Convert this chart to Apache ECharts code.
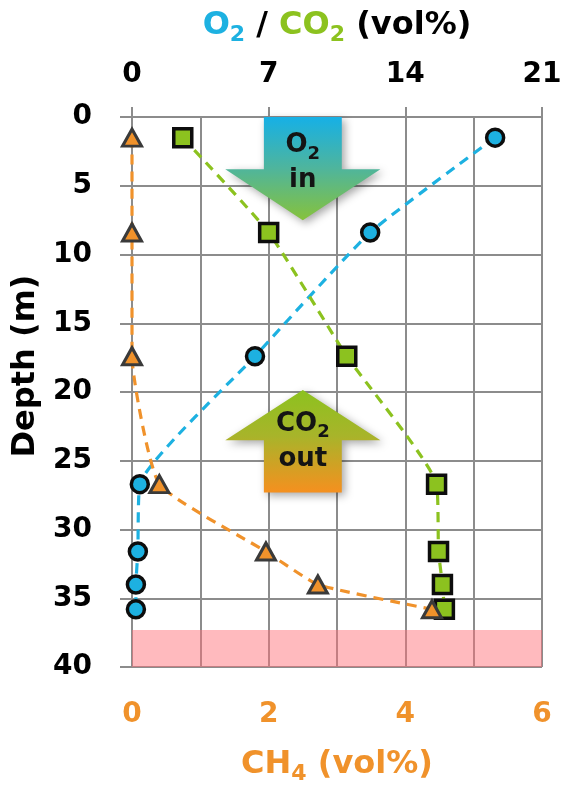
<!DOCTYPE html>
<html>
<head>
<meta charset="utf-8">
<script src="https://cdn.jsdelivr.net/npm/echarts/dist/echarts.min.js"></script>
<style>
  html, body { margin: 0; padding: 0; background: #ffffff; }
  #chart { width: 561px; height: 786px; }
</style>
</head>
<body>
<div id="chart"></div>
<script>
// Soil-gas profile: sampling depths and gas concentrations (vol%)
const depthM  = [1.5, 8.4, 17.4, 26.7, 31.6, 34.0, 35.8];
const o2Vol   = [18.6, 12.2, 6.3, 0.4, 0.3, 0.2, 0.2];
const co2Vol  = [2.6, 7.0, 11.0, 15.6, 15.7, 15.9, 16.0];
const ch4Vol  = [0, 0, 0, 0.4, 1.96, 2.72, 4.39];

// Axis tick values
const gasTicks   = [0, 7, 14, 21];
const ch4Ticks   = [0, 2, 4, 6];
const depthTicks = [0, 5, 10, 15, 20, 25, 30, 35, 40];

// Saturated zone at the bottom of the profile (depth range, m)
const saturatedZone = [37.3, 40];

// Flux arrows: [top, head base, tip / bottom] depths and centre on the CH4 scale
const arrowInDepth  = [0, 3.8, 7.5];
const arrowOutDepth = [19.85, 23.5, 27.3];
const arrowCenterCH4 = 2.5;

const FONT = 'DejaVu Sans';
const C_O2 = '#1db1e1';
const C_CO2 = '#8cc21f';
const C_CH4 = '#f0922b';
const GRID = '#8c8c8c';
const SMOOTH = 0.15;

const pairs = (xs) => xs.map((v, i) => [v, depthM[i]]);

const chart = echarts.init(document.getElementById('chart'), null, { renderer: 'canvas' });

const mainTok = (color) => ({ color, fontSize: 32, fontWeight: 'bold', fontFamily: FONT, lineHeight: 40, verticalAlign: 'middle' });
const subTok = (color) => ({ color, fontSize: 22, fontWeight: 'bold', fontFamily: FONT, lineHeight: 20, verticalAlign: 'bottom' });
const tickFont = { fontSize: 28, fontWeight: 'bold', fontFamily: FONT };

const option = {
  animation: false,
  backgroundColor: '#ffffff',
  grid: { left: 132, right: 19, top: 117, bottom: 119, containLabel: false, outerBoundsMode: 'none' },
  xAxis: [
    {
      type: 'value',
      position: 'bottom',
      min: ch4Ticks[0],
      max: ch4Ticks[ch4Ticks.length - 1],
      interval: ch4Ticks[1] - ch4Ticks[0],
      name: '{a|CH}{s|4}{a| (vol%)}',
      nameLocation: 'middle',
      nameGap: 78,
      nameTextStyle: { rich: { a: mainTok(C_CH4), s: subTok(C_CH4) } },
      axisLine: { show: true, lineStyle: { color: GRID, width: 2 } },
      axisTick: { show: true, inside: false, length: 10, lineStyle: { color: GRID, width: 2 } },
      axisLabel: Object.assign({ color: C_CH4, margin: 34 }, tickFont),
      splitLine: { show: true, lineStyle: { color: GRID, width: 2 } },
      minorTick: { show: false, splitNumber: 2 },
      minorSplitLine: { show: true, lineStyle: { color: GRID, width: 2 } }
    },
    {
      type: 'value',
      position: 'top',
      min: gasTicks[0],
      max: gasTicks[gasTicks.length - 1],
      interval: gasTicks[1] - gasTicks[0],
      name: '{c|O}{cs|2}{k| / }{g|CO}{gs|2}{k| (vol%)}',
      nameLocation: 'middle',
      nameGap: 71,
      nameTextStyle: {
        rich: {
          c: mainTok(C_O2), cs: subTok(C_O2),
          g: mainTok(C_CO2), gs: subTok(C_CO2),
          k: mainTok('#000000')
        }
      },
      axisLine: { show: true, lineStyle: { color: GRID, width: 2 } },
      axisTick: { show: true, inside: false, length: 10, lineStyle: { color: GRID, width: 2 } },
      axisLabel: Object.assign({ color: '#000000', margin: 28 }, tickFont),
      splitLine: { show: false }
    }
  ],
  yAxis: {
    type: 'value',
    inverse: true,
    min: depthTicks[0],
    max: depthTicks[depthTicks.length - 1],
    interval: depthTicks[1] - depthTicks[0],
    name: 'Depth (m)',
    nameLocation: 'middle',
    nameGap: 86,
    nameTextStyle: { color: '#000000', fontSize: 32, fontWeight: 'bold', fontFamily: FONT, padding: [0, 0, 0, 52] },
    axisLine: { show: true, lineStyle: { color: GRID, width: 2 } },
    axisTick: { show: true, inside: false, length: 12, lineStyle: { color: GRID, width: 2 } },
    axisLabel: Object.assign({ color: '#000000', margin: 40 }, tickFont),
    splitLine: { show: true, lineStyle: { color: GRID, width: 2 } }
  },
  series: [
    {
      name: 'O2',
      type: 'line',
      xAxisIndex: 1,
      data: pairs(o2Vol),
      smooth: SMOOTH,
      symbol: 'circle',
      symbolSize: 17,
      itemStyle: { color: C_O2, borderColor: '#0d0d0d', borderWidth: 3.5 },
      lineStyle: { color: C_O2, width: 3.2, type: [10, 7] },
      z: 3
    },
    {
      name: 'CO2',
      type: 'line',
      xAxisIndex: 1,
      data: pairs(co2Vol),
      smooth: SMOOTH,
      symbol: 'rect',
      symbolSize: 18,
      itemStyle: { color: C_CO2, borderColor: '#0d0d0d', borderWidth: 3.5 },
      lineStyle: { color: C_CO2, width: 3.2, type: [10, 7] },
      z: 4
    },
    {
      name: 'CH4',
      type: 'line',
      xAxisIndex: 0,
      data: pairs(ch4Vol),
      smooth: SMOOTH,
      symbol: 'triangle',
      symbolSize: [19, 17],
      itemStyle: { color: C_CH4, borderColor: '#3a3a3a', borderWidth: 3 },
      lineStyle: { color: C_CH4, width: 3.2, type: [10, 7] },
      markArea: {
        silent: true,
        itemStyle: { color: 'rgba(255,110,120,0.48)' },
        data: [[{ yAxis: saturatedZone[0] }, { yAxis: saturatedZone[1] }]]
      },
      z: 5
    }
  ]
};

chart.setOption(option);

// Flux arrows placed on the CH4 / depth coordinate system
function px(x, d) { return chart.convertToPixel({ xAxisIndex: 0, yAxisIndex: 0 }, [x, d]); }

const shaftHalf = 0.57, headHalf = 1.135;
function arrowPoints(depths, pointDown) {
  const cx = px(arrowCenterCH4, 0)[0];
  const sw = px(arrowCenterCH4 + shaftHalf, 0)[0] - cx;
  const hw = px(arrowCenterCH4 + headHalf, 0)[0] - cx;
  const y0 = px(0, depths[0])[1], y1 = px(0, depths[1])[1], y2 = px(0, depths[2])[1];
  if (pointDown) {
    return [[cx - sw, y0], [cx + sw, y0], [cx + sw, y1], [cx + hw, y1], [cx, y2], [cx - hw, y1], [cx - sw, y1]];
  }
  return [[cx, y0], [cx + hw, y1], [cx + sw, y1], [cx + sw, y2], [cx - sw, y2], [cx - sw, y1], [cx - hw, y1]];
}

const arrowShadow = { shadowBlur: 8, shadowColor: 'rgba(0,0,0,0.35)', shadowOffsetX: 3, shadowOffsetY: 3 };
const labelRich = {
  a: { fontSize: 26, fontWeight: 'bold', fontFamily: FONT, fill: '#141414', lineHeight: 35 },
  s: { fontSize: 18, fontWeight: 'bold', fontFamily: FONT, fill: '#141414', lineHeight: 28, verticalAlign: 'bottom' }
};
const cxText = px(arrowCenterCH4, 0)[0];

chart.setOption({
  graphic: [
    {
      type: 'polygon', z: 10,
      shape: { points: arrowPoints(arrowInDepth, true) },
      style: Object.assign({
        fill: new echarts.graphic.LinearGradient(0, 0, 0, 1, [
          { offset: 0, color: '#16b0e6' },
          { offset: 0.5, color: '#4fb59c' },
          { offset: 1, color: '#86c23c' }
        ])
      }, arrowShadow)
    },
    {
      type: 'polygon', z: 10,
      shape: { points: arrowPoints(arrowOutDepth, false) },
      style: Object.assign({
        fill: new echarts.graphic.LinearGradient(0, 0, 0, 1, [
          { offset: 0, color: '#8cc21f' },
          { offset: 0.45, color: '#a8b42a' },
          { offset: 1, color: '#f5901f' }
        ])
      }, arrowShadow)
    },
    {
      type: 'text', z: 11,
      style: {
        x: cxText, y: px(0, 3.35)[1],
        text: '{a|O}{s|2}\n{a|in}',
        rich: labelRich,
        align: 'center', verticalAlign: 'middle'
      }
    },
    {
      type: 'text', z: 11,
      style: {
        x: cxText, y: px(0, 23.6)[1],
        text: '{a|CO}{s|2}\n{a|out}',
        rich: labelRich,
        align: 'center', verticalAlign: 'middle'
      }
    }
  ]
});
</script>
</body>
</html>
